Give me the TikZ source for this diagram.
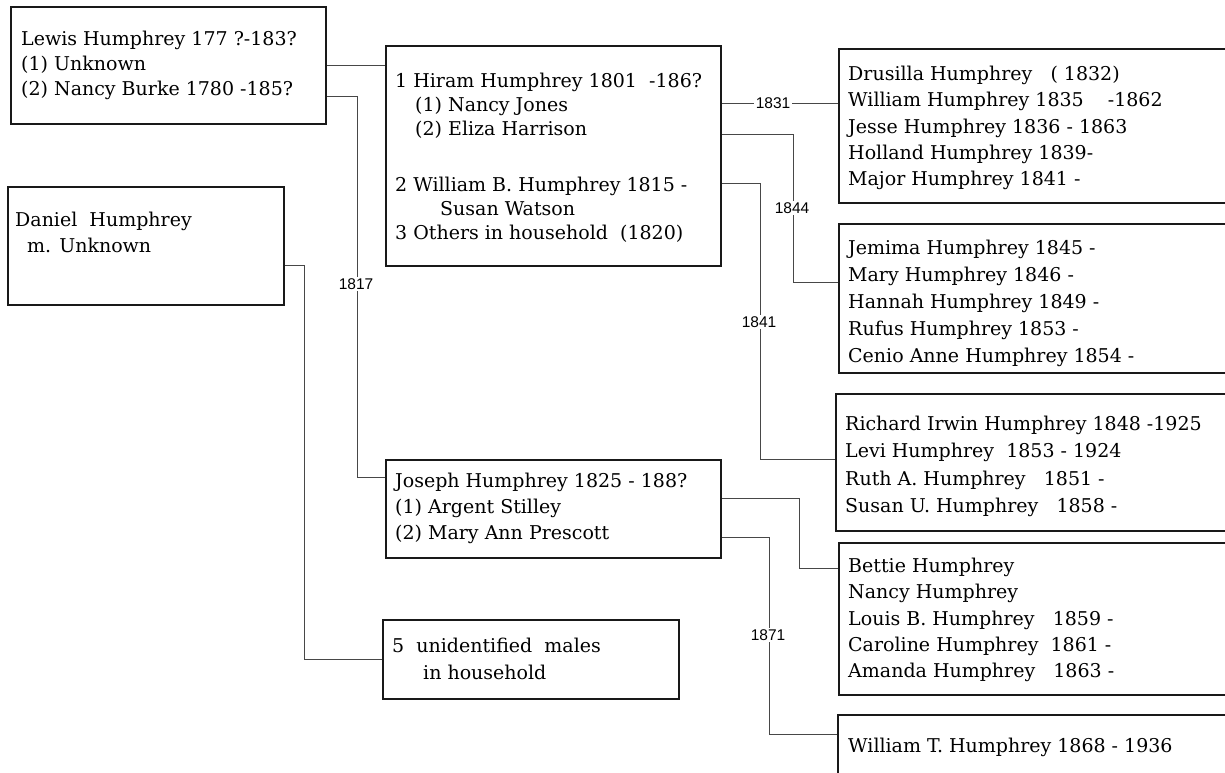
\documentclass[tikz,border=0pt]{standalone}
\usepackage{fontspec}
\setmainfont{DejaVu Serif}
\newfontfamily\labfont{Liberation Sans}
\begin{document}
\begin{tikzpicture}[x=1pt,y=-1pt,
  box/.style={draw=black!90,line width=1.7pt,anchor=north west,inner sep=0pt,fill=white},
  txt/.style={anchor=north west,inner sep=0pt,align=left,text=black},
  conn/.style={draw=black!72,line width=1.1pt},
  yr/.style={fill=white,inner sep=1.5pt,font=\labfont\fontsize{15.5}{17}\selectfont}]
\useasboundingbox (0,0) rectangle (1225,772);
\clip (0,0) rectangle (1225,772);
\fill[white] (0,0) rectangle (1225,772);
% boxes
\node[box,minimum width=315pt,minimum height=117pt] (lewis) at (10,6) {};
\node[box,minimum width=335pt,minimum height=220pt] (hiram) at (385,45) {};
\node[box,minimum width=276pt,minimum height=118pt] (daniel) at (7,186) {};
\node[box,minimum width=335pt,minimum height=98pt] (joseph) at (385,459) {};
\node[box,minimum width=296pt,minimum height=79pt] (unident) at (382,619) {};
\node[box,minimum width=402pt,minimum height=154pt] (drusilla) at (838,48) {};
\node[box,minimum width=402pt,minimum height=149pt] (jemima) at (838,223) {};
\node[box,minimum width=405pt,minimum height=137pt] (richard) at (835,393) {};
\node[box,minimum width=402pt,minimum height=152pt] (bettie) at (838,542) {};
\node[box,minimum width=403pt,minimum height=100pt] (wt) at (837,714) {};
% texts
\node[txt,font=\fontsize{19}{25}\selectfont] (lewistxt) at (21,31)
 {Lewis Humphrey 177 ?-183?\\(1) Unknown\\(2) Nancy Burke 1780 -185?};
\node[txt,font=\fontsize{19}{24}\selectfont] (hiramtxt) at (395,73)
 {1 Hiram Humphrey 1801~~-186?\\\hspace*{20pt}(1) Nancy Jones\\\hspace*{20pt}(2) Eliza Harrison\\[32pt]2 William B. Humphrey 1815 -\\\hspace*{45pt}Susan Watson\\3 Others in household~~(1820)};
\node[txt,font=\fontsize{19}{26}\selectfont] (danieltxt) at (15,212)
 {Daniel~~Humphrey\\\hspace*{12pt}m. Unknown};
\node[txt,font=\fontsize{19}{26}\selectfont] (josephtxt) at (395,473)
 {Joseph Humphrey 1825 - 188?\\(1) Argent Stilley\\(2) Mary Ann Prescott};
\node[txt,font=\fontsize{19}{27}\selectfont] (unidenttxt) at (392,638)
 {5~~unidentified~~males\\\hspace*{31pt}in household};
\node[txt,font=\fontsize{19}{26.25}\selectfont] (drusillatxt) at (848,66)
 {Drusilla Humphrey~~~(~1832)\\William Humphrey 1835~~~~-1862\\Jesse Humphrey 1836 - 1863\\Holland Humphrey 1839-\\Major Humphrey 1841 -};
\node[txt,font=\fontsize{19}{27}\selectfont] (jemimatxt) at (848,240)
 {Jemima Humphrey 1845 -\\Mary Humphrey 1846 -\\Hannah Humphrey 1849 -\\Rufus Humphrey 1853 -\\Cenio Anne Humphrey 1854 -};
\node[txt,font=\fontsize{19}{27.3}\selectfont] (richardtxt) at (845,416)
 {Richard Irwin Humphrey 1848 -1925\\Levi Humphrey~~1853 - 1924\\Ruth A. Humphrey~~~1851 -\\Susan U. Humphrey~~~1858 -};
\node[txt,font=\fontsize{19}{26.25}\selectfont] (bettietxt) at (848,558)
 {Bettie Humphrey\\Nancy Humphrey\\Louis B. Humphrey~~~1859 -\\Caroline Humphrey~~1861 -\\Amanda Humphrey~~~1863 -};
\node[txt,font=\fontsize{19}{26}\selectfont] (wttxt) at (848,738)
 {William T. Humphrey 1868 - 1936};
% connectors
\draw[conn] (lewis.east) -- (lewis.east -| hiram.west);
\draw[conn] ([yshift=-31.5pt]lewis.east) -- ++(31,0) |- ([yshift=31pt]joseph.west);
\draw[conn] ([yshift=-20pt]daniel.east) -- ++(20,0) |- (unident.west);
\draw[conn] ([yshift=52pt]hiram.east) -- ([yshift=52pt]hiram.east -| drusilla.west);
\draw[conn] ([yshift=21pt]hiram.east) -- ++(72,0) |- ([yshift=15.5pt]jemima.west);
\draw[conn] ([yshift=-28pt]hiram.east) -- ++(39,0) |- ([yshift=2.5pt]richard.west);
\draw[conn] ([yshift=10pt]joseph.east) -- ++(78,0) |- ([yshift=50pt]bettie.west);
\draw[conn] ([yshift=-29pt]joseph.east) -- ++(48,0) |- ([yshift=30pt]wt.west);
% year labels
\node[yr] (y1817) at (356,284) {1817};
\node[yr] (y1831) at (773,103) {1831};
\node[yr] (y1844) at (792,208) {1844};
\node[yr] (y1841) at (759,322) {1841};
\node[yr] (y1871) at (768,635) {1871};
\end{tikzpicture}
\end{document}
